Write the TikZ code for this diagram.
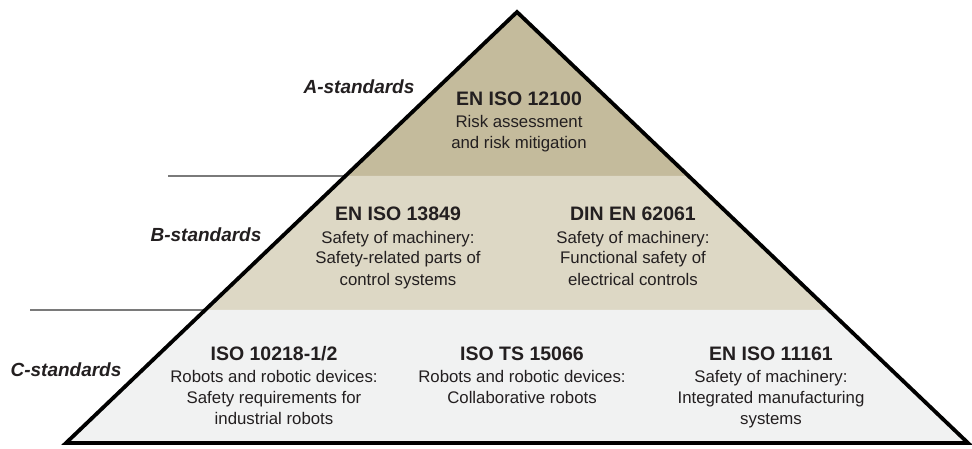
\documentclass[tikz,border=0pt]{standalone}
\usepackage{fontspec}
\setmainfont{Liberation Sans}
\usetikzlibrary{positioning,calc}

\definecolor{tierA}{HTML}{C4BB9C}
\definecolor{tierB}{HTML}{DDD8C5}
\definecolor{tierC}{HTML}{F1F2F2}
\definecolor{inkdark}{HTML}{231F20}

\begin{document}
\begin{tikzpicture}[
        x=1pt, y=-1pt,
        tiertitle/.style={font=\fontsize{19.5}{21}\selectfont\bfseries, anchor=base, inner sep=0pt, text=inkdark},
        tiertext/.style={font=\fontsize{16.8}{21}\selectfont, align=center, anchor=base, inner sep=0pt, text=inkdark},
        levellabel/.style={font=\fontsize{19}{21}\selectfont\bfseries\itshape, anchor=base, inner sep=0pt, text=inkdark},
        outline/.style={line width=3.8pt, line join=miter, draw=black},
        divider/.style={line width=1.3pt, draw=black!80}
    ]
    \useasboundingbox (0,0) rectangle (972,449);

    % --- Pyramid corners ---
    \coordinate (apex) at (517,12);
    \coordinate (bl) at (66,443);
    \coordinate (br) at (968,443);
    \coordinate (abl) at ($(apex)!0.3805!(bl)$);
    \coordinate (abr) at ($(apex)!0.3805!(br)$);
    \coordinate (bbl) at ($(apex)!0.6914!(bl)$);
    \coordinate (bbr) at ($(apex)!0.6914!(br)$);

    % --- Tier fills ---
    \fill[tierA] (apex) -- (abr) -- (abl) -- cycle;
    \fill[tierB] (abl) -- (abr) -- (bbr) -- (bbl) -- cycle;
    \fill[tierC] (bbl) -- (bbr) -- (br) -- (bl) -- cycle;

    % --- Level dividers ---
    \coordinate (divA) at (168,176);
    \coordinate (divB) at (30,310);
    \draw[divider] (divA) -- (abl);
    \draw[divider] (divB) -- (bbl);

    % --- Outline ---
    \draw[outline] (bl) -- (apex) -- (br) -- cycle;

    % --- Level labels ---
    \node[levellabel] (labA) at (359,94) {A-standards};
    \node[levellabel] (labB) at (206,242) {B-standards};
    \node[levellabel] (labC) at (66,376) {C-standards};

    % --- Tier A (text nodes sit on their last baseline) ---
    \node[tiertitle] (stdA) at (519,106) {EN ISO 12100};
    \node[tiertext] (txtA) at (519,149) {Risk assessment\\and risk mitigation};

    % --- Tier B ---
    \node[tiertitle] (stdBl) at (398,221) {EN ISO 13849};
    \node[tiertext] (txtBl) at (398,285) {Safety of machinery:\\Safety-related parts of\\control systems};
    \node[tiertitle] (stdBr) at (633,221) {DIN EN 62061};
    \node[tiertext] (txtBr) at (633,285) {Safety of machinery:\\Functional safety of\\electrical controls};

    % --- Tier C ---
    \node[tiertitle] (stdCl) at (274,360) {ISO 10218-1/2};
    \node[tiertext] (txtCl) at (274,424) {Robots and robotic devices:\\Safety requirements for\\industrial robots};
    \node[tiertitle] (stdCm) at (522,360) {ISO TS 15066};
    \node[tiertext] (txtCm) at (522,403) {Robots and robotic devices:\\Collaborative robots};
    \node[tiertitle] (stdCr) at (771,360) {EN ISO 11161};
    \node[tiertext] (txtCr) at (771,424) {Safety of machinery:\\Integrated manufacturing\\systems};

\end{tikzpicture}
\end{document}
